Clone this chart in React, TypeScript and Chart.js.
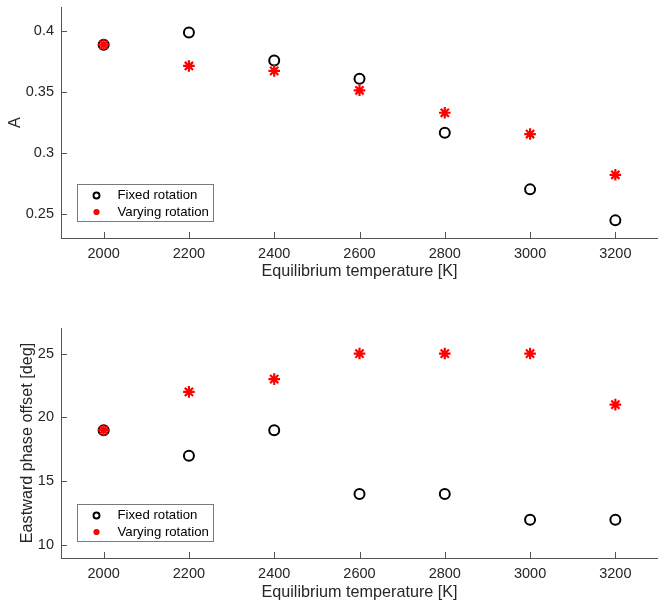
import React, { useEffect, useRef } from 'react';
import { Chart, registerables } from 'chart.js';

Chart.register(...registerables);

// Equilibrium temperatures of the simulated planets [K]
const temperatures = [2000, 2200, 2400, 2600, 2800, 3000, 3200];

// Amplitude A
const amplitudeFixed = [0.389, 0.399, 0.376, 0.361, 0.3165, 0.27, 0.2445];
const amplitudeVarying = [0.389, 0.3715, 0.3675, 0.3515, 0.333, 0.3155, 0.282];

// Eastward phase offset [deg]
const offsetFixed = [19, 17, 19, 14, 14, 12, 12];
const offsetVarying = [19, 22, 23, 25, 25, 25, 21];

const temperatureTicks = [2000, 2200, 2400, 2600, 2800, 3000, 3200];
const amplitudeTicks = [0.25, 0.3, 0.35, 0.4];
const offsetTicks = [10, 15, 20, 25];

const seriesNames = ['Fixed rotation', 'Varying rotation'];

const FONT = "'Liberation Sans', Arial, Helvetica, sans-serif";
const AXIS_COLOR = '#262626';
const W = 658;
const H = 303;

// Inward tick marks plus a boxed legend inside the lower-left of the plot area
const panelDecor = {
  id: 'panelDecor',
  afterDraw(chart: any, _args: any, opts: any) {
    const { ctx, chartArea, scales } = chart;
    const xs = scales.x;
    const ys = scales.y;
    const tickLen = 6;
    ctx.save();
    ctx.strokeStyle = '#555';
    ctx.lineWidth = 1;
    ctx.beginPath();
    for (const v of opts.xTicks) {
      const px = Math.round(xs.getPixelForValue(v)) + 0.5;
      ctx.moveTo(px, chartArea.bottom);
      ctx.lineTo(px, chartArea.bottom - tickLen);
    }
    for (const v of opts.yTicks) {
      const py = Math.round(ys.getPixelForValue(v)) + 0.5;
      ctx.moveTo(chartArea.left, py);
      ctx.lineTo(chartArea.left + tickLen, py);
    }
    ctx.stroke();

    // legend
    const bw = 136;
    const bh = 37;
    const bx = Math.round(chartArea.left + 16) + 0.5;
    const by = Math.round(chartArea.bottom - 17.5 - bh) + 0.5;
    ctx.fillStyle = '#ffffff';
    ctx.fillRect(bx, by, bw, bh);
    ctx.strokeStyle = '#7a7a7a';
    ctx.lineWidth = 1;
    ctx.strokeRect(bx, by, bw, bh);

    const mx = bx + 19;
    const tx = bx + 40;
    const r1 = by + 11;
    const r2 = by + 27.5;

    ctx.beginPath();
    ctx.arc(mx, r1, 3, 0, Math.PI * 2);
    ctx.strokeStyle = '#000';
    ctx.lineWidth = 1.9;
    ctx.stroke();

    ctx.beginPath();
    ctx.arc(mx, r2, 3.1, 0, Math.PI * 2);
    ctx.fillStyle = '#ff0000';
    ctx.fill();

    ctx.fillStyle = '#000';
    ctx.font = `13.2px ${FONT}`;
    ctx.textAlign = 'left';
    ctx.textBaseline = 'middle';
    ctx.fillText(seriesNames[0], tx, r1);
    ctx.fillText(seriesNames[1], tx, r2);
    ctx.restore();
  },
};

type PanelProps = {
  fixed: number[];
  varying: number[];
  yMin: number;
  yMax: number;
  yTicks: number[];
  yTitle: string;
  yTitlePad: number;
  padTop: number;
  xAxisHeight: number;
  xTitlePad: number;
};

const zeroPadding = (s: any) => {
  s.paddingLeft = 0;
  s.paddingRight = 0;
  s.paddingTop = 0;
  s.paddingBottom = 0;
};

function Panel(p: PanelProps) {
  const ref = useRef<HTMLCanvasElement | null>(null);

  useEffect(() => {
    if (!ref.current) return;
    const tickFont = { family: FONT, size: 14.5 };
    const titleFont = { family: FONT, size: 16.2 };
    const chart = new Chart(ref.current, {
      type: 'scatter',
      data: {
        datasets: [
          {
            label: seriesNames[0],
            data: temperatures.map((t, i) => ({ x: t, y: p.fixed[i] })),
            pointStyle: 'circle',
            pointRadius: 5,
            pointBorderWidth: 2,
            pointBorderColor: '#000000',
            pointBackgroundColor: 'rgba(0,0,0,0)',
            order: 1,
          },
          {
            label: seriesNames[1],
            data: temperatures.map((t, i) => ({ x: t, y: p.varying[i] })),
            pointStyle: 'star',
            pointRadius: 5.8,
            pointBorderWidth: 2.2,
            pointBorderColor: '#ff0000',
            pointBackgroundColor: '#ff0000',
            order: 0,
          },
        ],
      },
      options: {
        responsive: false,
        animation: false,
        devicePixelRatio: 1,
        layout: {
          autoPadding: false,
          padding: { top: p.padTop, right: -4, left: 0, bottom: 0 },
        },
        plugins: {
          legend: { display: false },
          tooltip: { enabled: false },
          panelDecor: { xTicks: temperatureTicks, yTicks: p.yTicks },
        } as any,
        scales: {
          x: {
            type: 'linear',
            min: 1900,
            max: 3300,
            grid: { display: false, drawTicks: false, tickLength: 0 },
            border: { display: true, color: '#555', width: 1 },
            afterBuildTicks: (s: any) => {
              s.ticks = temperatureTicks.map((v) => ({ value: v }));
            },
            afterFit: (s: any) => {
              s.height = p.xAxisHeight;
              zeroPadding(s);
            },
            ticks: {
              autoSkip: false,
              maxRotation: 0,
              padding: 7,
              color: AXIS_COLOR,
              font: tickFont,
              callback: (v: any) => String(v),
            },
            title: {
              display: true,
              text: 'Equilibrium temperature [K]',
              color: AXIS_COLOR,
              font: titleFont,
              padding: { top: 0, bottom: p.xTitlePad },
            },
          },
          y: {
            type: 'linear',
            min: p.yMin,
            max: p.yMax,
            grid: { display: false, drawTicks: false, tickLength: 0 },
            border: { display: true, color: '#555', width: 1 },
            afterBuildTicks: (s: any) => {
              s.ticks = p.yTicks.map((v) => ({ value: v }));
            },
            afterFit: (s: any) => {
              s.width = 61;
              zeroPadding(s);
            },
            ticks: {
              autoSkip: false,
              padding: 7,
              color: AXIS_COLOR,
              font: tickFont,
              callback: (v: any) => String(v),
            },
            title: {
              display: true,
              text: p.yTitle,
              color: AXIS_COLOR,
              font: titleFont,
              padding: { top: p.yTitlePad, bottom: 0 },
            },
          },
        },
      },
      plugins: [panelDecor],
    });
    return () => chart.destroy();
  }, []);

  return (
    <canvas
      ref={ref}
      width={W}
      height={H}
      style={{ display: 'block', width: W, height: H }}
    />
  );
}

export default function App() {
  return (
    <div
      style={{
        position: 'absolute',
        left: 0,
        top: 0,
        width: W,
        height: 2 * H,
        background: '#ffffff',
      }}
    >
      <Panel
        fixed={amplitudeFixed}
        varying={amplitudeVarying}
        yMin={0.23}
        yMax={0.42}
        yTicks={amplitudeTicks}
        yTitle="A"
        yTitlePad={5.4}
        padTop={7}
        xAxisHeight={65}
        xTitlePad={21.4}
      />
      <Panel
        fixed={offsetFixed}
        varying={offsetVarying}
        yMin={9}
        yMax={27}
        yTicks={offsetTicks}
        yTitle="Eastward phase offset [deg]"
        yTitlePad={17.9}
        padTop={25}
        xAxisHeight={48}
        xTitlePad={3.4}
      />
    </div>
  );
}
